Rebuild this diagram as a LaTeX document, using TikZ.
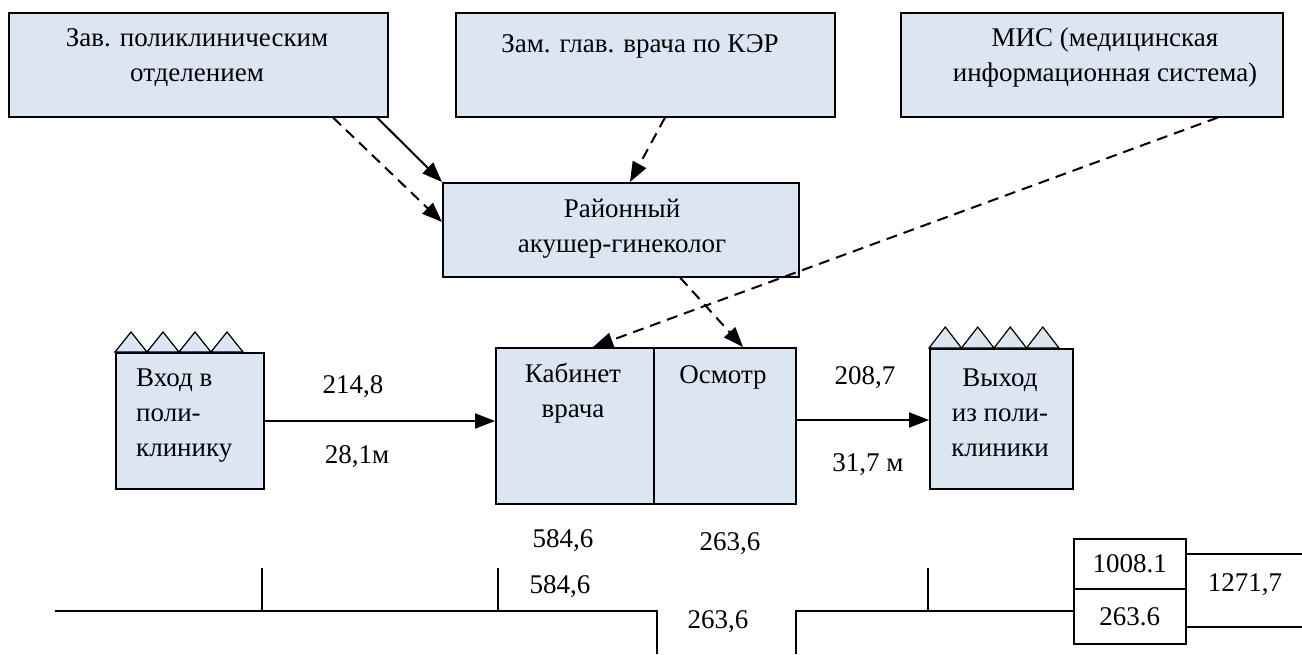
\documentclass[tikz,border=0pt]{standalone}
\usepackage{fontspec}
\setmainfont{Liberation Serif}
\usetikzlibrary{arrows.meta}
\definecolor{boxfill}{RGB}{220,230,242}

\begin{document}
\begin{tikzpicture}[x=1pt,y=-1pt,
  txt/.style={font=\fontsize{27}{35}\selectfont, inner sep=0pt, align=center},
  box/.style={draw=black, fill=boxfill, line width=1.5pt, inner sep=0pt, anchor=north west},
  cell/.style={draw=black, line width=1.5pt, inner sep=0pt, anchor=north west,
    font=\fontsize{27}{35}\selectfont},
  tri/.style={draw=black, fill=boxfill, line width=1.2pt, line join=miter},
  arr/.style={line width=2pt, -{Triangle[length=20pt,width=15pt]}},
  darr/.style={arr, dash pattern=on 11pt off 7pt},
  tline/.style={line width=1.5pt}]

\useasboundingbox (0,0) rectangle (1302,654);

% top row of boxes
\node[box, minimum width=379pt, minimum height=104pt] (zav) at (8,12) {};
\node[box, minimum width=379pt, minimum height=104pt] (zam) at (455,12) {};
\node[box, minimum width=382pt, minimum height=104pt] (mis) at (900,12) {};
\node[txt] (zavT) at (197,58) {Зав. поликлиническим\\отделением};
\node[txt] (zamT) at (640,46) {Зам. глав. врача по КЭР};
\node[txt] (misT) at (1105,58) {МИС (медицинская\\информационная система)};

% district doctor
\node[box, minimum width=356pt, minimum height=94pt] (raion) at (442,182) {};
\node[txt] (raionT) at (622,229) {Районный\\акушер-гинеколог};

% entrance
\node[box, minimum width=148pt, minimum height=136pt] (vkhod) at (115,352) {};
\foreach \i in {0,...,3}
  \draw[tri] ([xshift=\i*32pt]vkhod.north west) -- ++(16,-20) -- ++(16,20) -- cycle;
\node[txt, align=left, anchor=west] (vkhodT) at (136,416) {Вход в\\поли-\\клинику};

% doctor's office
\node[box, minimum width=158pt, minimum height=156pt] (kab) at (495,347) {};
\node[box, minimum width=142pt, minimum height=156pt] (osm) at (653,347) {};
\node[txt] (kabT) at (573,393) {Кабинет\\врача};
\node[txt] (osmT) at (723,377) {Осмотр};

% exit
\node[box, minimum width=143pt, minimum height=140pt] (vykhod) at (929,348) {};
\foreach \i in {0,...,3}
  \draw[tri] ([xshift=\i*32.5pt]vykhod.north west) -- ++(16.25,-21) -- ++(16.25,21) -- cycle;
\node[txt] (vykhodT) at (1000,413) {Выход\\из поли-\\клиники};

% connectors
\draw[arr] ([xshift=369pt]zav.south west) -- (raion.north west);
\draw[darr] ([xshift=325pt]zav.south west) -- ([yshift=-40pt]raion.north west);
\draw[darr] ([xshift=210pt]zam.south west) -- ([xshift=188pt]raion.north west);
\draw[darr] ([xshift=318pt]mis.south west) -- ([xshift=98pt]kab.north west);
\draw[darr] ([xshift=238pt]raion.south west) -- ([xshift=90pt]osm.north west);
\draw[arr] (vkhod.east |- 0,421) -- (kab.west |- 0,421);
\draw[arr] (osm.east |- 0,420) -- (vykhod.west |- 0,420);

% flow figures
\node[txt] (a1) at (353,387) {214,8};
\node[txt] (a2) at (357,457) {28,1м};
\node[txt] (b1) at (865,378) {208,7};
\node[txt] (b2) at (868,465) {31,7 м};
\node[txt] (c1) at (563,541) {584,6};
\node[txt] (c2) at (730,544) {263,6};
\node[txt] (c3) at (560,587) {584,6};
\node[txt] (c4) at (718,622) {263,6};

% totals
\node[cell, minimum width=112pt, minimum height=50pt] (tot1) at (1073,538) {1008.1};
\node[cell, minimum width=112pt, minimum height=55pt] (tot2) at (1073,588) {263.6};
\node[txt] (tot3) at (1245,585) {1271,7};

% time line
\coordinate (l0) at (55,611);
\coordinate (l1) at (657,611);
\coordinate (l2) at (657,654);
\coordinate (r0) at (796,654);
\coordinate (r1) at (796,611);
\draw[tline] (l0) -- (l1) -- (l2);
\draw[tline] (r0) -- (r1) -- (tot2.west |- r1);
\draw[tline] (262,568) -- (262,611);
\draw[tline] (498,568) -- (498,611);
\draw[tline] (928,568) -- (928,611);
\draw[tline] (tot1.east |- 0,554) -- (1302,554);
\draw[tline] (tot2.east |- 0,627) -- (1302,627);
\end{tikzpicture}
\end{document}
